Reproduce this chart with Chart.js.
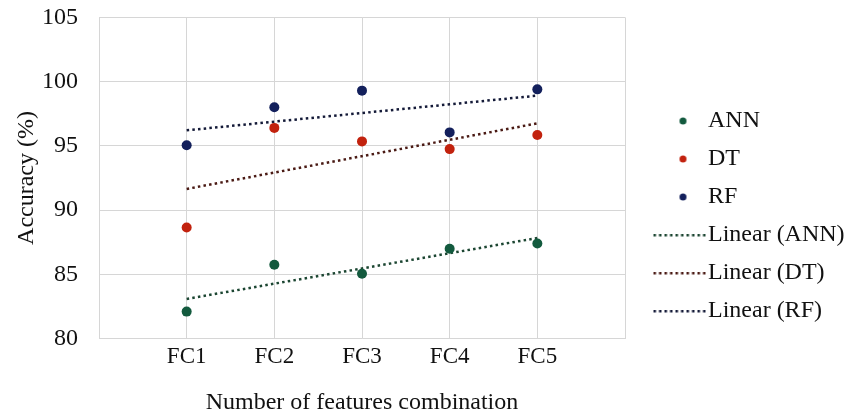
<!DOCTYPE html>
<html>
<head>
<meta charset="utf-8">
<script src="https://cdn.jsdelivr.net/npm/chart.js@4.4.0/dist/chart.umd.min.js"></script>
<style>
  html, body { margin: 0; padding: 0; background: #fff; }
  #wrap { width: 860px; height: 417px; }
</style>
</head>
<body>
<div id="wrap"><canvas id="chart"></canvas></div>
<script>
const categories = ['FC1', 'FC2', 'FC3', 'FC4', 'FC5']
const annAcc = [82.1, 85.75, 85.05, 87.0, 87.4]
const dtAcc = [88.65, 96.4, 95.35, 94.75, 95.85]
const rfAcc = [95.05, 98.0, 99.3, 96.05, 99.4]
const seriesNames = ['ANN', 'DT', 'RF']

const colors = { ANN: '#135a3e', DT: '#c2220e', RF: '#13205c' }
const trendColors = { ANN: '#1c4632', DT: '#4a1a14', RF: '#141a38' }
const serif = 'Liberation Serif'

// least squares trendline, same as the spreadsheet "Linear" option
function linearFit(ys){
  const xs = ys.map((_, i) => i + 1)
  const n = ys.length
  const mx = xs.reduce((a, b) => a + b, 0) / n
  const my = ys.reduce((a, b) => a + b, 0) / n
  let sxy = 0, sxx = 0
  xs.forEach((x, i) => { sxy += (x - mx) * (ys[i] - my); sxx += (x - mx) * (x - mx) })
  const slope = sxy / sxx
  return [1, n].map(x => ({ x: x, y: my + slope * (x - mx) }))
}

function points(ys){
  return ys.map((y, i) => ({ x: i + 1, y: y }))
}

// legend icons: wider than the legend box so the dotted line runs up to the text
function legendIcon(kind, color){
  const c = document.createElement('canvas')
  c.width = 80; c.height = 12
  const g = c.getContext('2d')
  g.fillStyle = color
  if (kind === 'dot') {
    g.beginPath(); g.arc(55.5, 6, 3.5, 0, Math.PI * 2); g.fill()
  } else {
    for (let x = 26; x < 77; x += 5.5) g.fillRect(x, 5, 2.5, 2.5)
  }
  return c
}

// the layout caps a side legend at a quarter of the width, give it room for "Linear (ANN)"
const legendWidth = {
  id: 'legendWidth',
  afterInit(chart){
    const lg = chart.legend
    const fit = lg.fit.bind(lg)
    lg.fit = () => { fit(); lg.width = 220 }
  }
}

const data = [annAcc, dtAcc, rfAcc]
const datasets = []
seriesNames.forEach((name, k) => {
  datasets.push({
    type: 'scatter', label: name, data: points(data[k]),
    backgroundColor: colors[name], borderColor: colors[name],
    pointRadius: 5, pointHoverRadius: 5, borderWidth: 0, order: 1
  })
})
seriesNames.forEach((name, k) => {
  datasets.push({
    type: 'line', label: 'Linear (' + name + ')', data: linearFit(data[k]),
    borderColor: trendColors[name], borderWidth: 2.5, borderDash: [2.5, 3.2],
    pointRadius: 0, fill: false, order: 2
  })
})

const gridGray = '#d6d6d6'
new Chart(document.getElementById('chart'), {
  type: 'scatter',
  data: { datasets: datasets },
  plugins: [legendWidth],
  options: {
    responsive: true,
    maintainAspectRatio: false,
    animation: false,
    layout: { padding: { left: 0, top: 15, right: 15, bottom: 0 } },
    plugins: {
      tooltip: { enabled: false },
      legend: {
        position: 'right',
        labels: {
          usePointStyle: true,
          pointStyleWidth: 57,
          padding: 14,
          color: '#111',
          font: { family: serif, size: 24 },
          generateLabels: chart => chart.data.datasets.map((ds, i) => {
            const name = seriesNames[i % 3]
            return {
              text: ds.label,
              datasetIndex: i,
              fillStyle: ds.borderColor,
              strokeStyle: ds.borderColor,
              lineWidth: 0,
              hidden: false,
              fontColor: '#111',
              pointStyle: legendIcon(i < 3 ? 'dot' : 'line', i < 3 ? colors[name] : trendColors[name])
            }
          })
        }
      }
    },
    scales: {
      x: {
        type: 'linear', min: 0, max: 6,
        grid: { color: gridGray, drawTicks: false },
        border: { color: gridGray },
        ticks: {
          stepSize: 1, padding: 5, color: '#111',
          font: { family: serif, size: 23 },
          callback: v => categories[v - 1] || ''
        },
        title: {
          display: true, text: 'Number of features combination', color: '#111',
          font: { family: serif, size: 24 }, padding: { top: 12, bottom: 0 }
        }
      },
      y: {
        min: 80, max: 105,
        afterFit: scale => { scale.width = 99 },
        grid: { color: gridGray, drawTicks: true, tickLength: 18, tickColor: 'rgba(0,0,0,0)' },
        border: { color: gridGray },
        ticks: {
          stepSize: 5, padding: 3, color: '#111',
          font: { family: serif, size: 24 }
        },
        title: {
          display: true, text: 'Accuracy (%)', color: '#111',
          font: { family: serif, size: 24 }, padding: { top: 12.6, bottom: 0 }
        }
      }
    }
  }
})
</script>
</body>
</html>
